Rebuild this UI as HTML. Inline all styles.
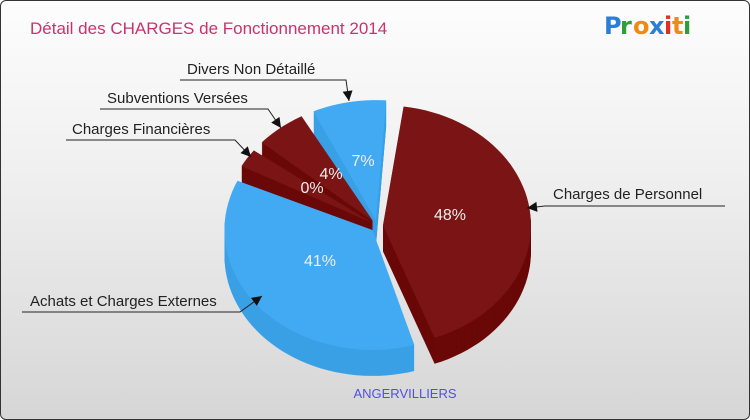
<!DOCTYPE html>
<html><head><meta charset="utf-8"><style>
body{margin:0;width:750px;height:420px;overflow:hidden;font-family:"Liberation Sans",sans-serif}
#wrap{position:absolute;left:0;top:0;width:748px;height:418px;border:1px solid #333;border-radius:6px;background:linear-gradient(#fdfdfd,#f0f0f0 40%,#d6d6d6)}
</style></head><body>
<div id="wrap">
<svg id="svg" width="750" height="420" style="position:absolute;left:-1px;top:-1px">
<text x="30" y="34" font-size="17" fill="#c8336e">Détail des CHARGES de Fonctionnement 2014</text>
<g font-family="'DejaVu Sans',sans-serif" font-size="24" font-weight="bold">
<text x="604" y="34" fill="#2a7fd4">P</text><text x="620" y="34" fill="#2e9e3a">r</text><text x="633" y="34" fill="#f08a10">o</text><text x="649" y="34" fill="#2a7fd4">x</text><text x="664" y="34" fill="#e03020">i</text><text x="672" y="34" fill="#f08a10">t</text><text x="683" y="34" fill="#2e9e3a">i</text>
</g>
<text x="405" y="398" font-size="13" text-anchor="middle" fill="#5050e0">ANGERVILLIERS</text>
<g id="pie"></g>
<g id="labels"></g>
</svg></div>
<script>
const categories=["Charges de Personnel","Achats et Charges Externes","Charges Financières","Subventions Versées","Divers Non Détaillé"];
const values=[48,41,0.3,4,7];
const pctLabels=["48%","41%","0%","4%","7%"];
const cx=377,cy=226,rx=148,ry=120,depth=26,explode=6;
const startDeg=8,gapDeg=4,minDeg=8;
const tops=["#7b1515","#42aaf2","#7b1515","#7b1515","#42aaf2"];
const sides=["#6a0808","#3aa0e6","#6a0808","#6a0808","#3aa0e6"];
const NS="http://www.w3.org/2000/svg";
const pie=document.getElementById('pie');
const total=values.reduce((a,b)=>a+b,0);
function pt(a,ox,oy,dy){return [ox+rx*Math.sin(a),oy-ry*Math.cos(a)+dy];}
function slicePath(a0,a1,ox,oy,dy){
 let d=`M${ox},${oy+dy}`;const n=Math.max(2,Math.ceil((a1-a0)/0.05));
 for(let i=0;i<=n;i++){const p=pt(a0+(a1-a0)*i/n,ox,oy,dy);d+=`L${p[0].toFixed(1)},${p[1].toFixed(1)}`;}
 return d+'Z';}
const R=360-values.length*(gapDeg+minDeg);
let cur=startDeg;const slices=[];
values.forEach((v,i)=>{const sw=minDeg+R*v/total;const a0=cur*Math.PI/180;const a1=(cur+sw)*Math.PI/180;cur+=sw+gapDeg;slices.push({i,a0,a1});});
const order=[4,3,2,1,0];
order.forEach(i=>{
 const s=slices[i];const m=(s.a0+s.a1)/2;
 const ox=cx+explode*Math.sin(m),oy=cy-explode*Math.cos(m);
 const g=document.createElementNS(NS,'g');
 
 
 for(let dy=depth;dy>0;dy-=1){const p=document.createElementNS(NS,'path');p.setAttribute('d',slicePath(s.a0,s.a1,ox,oy,dy));p.setAttribute('fill',sides[i]);g.appendChild(p);}
 const t=document.createElementNS(NS,'path');t.setAttribute('d',slicePath(s.a0,s.a1,ox,oy,0));t.setAttribute('fill',tops[i]);g.appendChild(t);
 pie.appendChild(g);
});
const pctPos=[[450,220],[320,266],[312,193],[331,179],[363,166]];
const labels=document.getElementById('labels');
pctLabels.forEach((l,i)=>{const t=document.createElementNS(NS,'text');t.setAttribute('x',pctPos[i][0]);t.setAttribute('y',pctPos[i][1]);t.setAttribute('text-anchor','middle');t.setAttribute('font-size','16');t.setAttribute('fill','#eee');t.textContent=l;


labels.appendChild(t);});
const leaders=[
 {tx:553,ty:199,line:[[725,206],[545,206],[527,208]]},
 {tx:30,ty:306,line:[[22,312],[240,312],[262,296]]},
 {tx:72,ty:134,line:[[66,140],[235,140],[251,157]]},
 {tx:107,ty:103,line:[[100,109],[268,109],[281,128]]},
 {tx:187,ty:74,line:[[180,80],[346,80],[349,101]]}];
leaders.forEach((L,i)=>{
 const t=document.createElementNS(NS,'text');t.setAttribute('x',L.tx);t.setAttribute('y',L.ty);t.setAttribute('font-size','15');t.setAttribute('fill','#222');t.textContent=categories[i];
 
 
 labels.appendChild(t);
 const p=document.createElementNS(NS,'polyline');p.setAttribute('points',L.line.map(q=>q.join(',')).join(' '));p.setAttribute('fill','none');p.setAttribute('stroke','#222');p.setAttribute('stroke-width','1');
 
 
 labels.appendChild(p);
 const a=L.line[2],b=L.line[1];const ang=Math.atan2(a[1]-b[1],a[0]-b[0]);const s=10,w=5;
 const x1=a[0]-s*Math.cos(ang)+w*Math.sin(ang),y1=a[1]-s*Math.sin(ang)-w*Math.cos(ang);
 const x2=a[0]-s*Math.cos(ang)-w*Math.sin(ang),y2=a[1]-s*Math.sin(ang)+w*Math.cos(ang);
 const h=document.createElementNS(NS,'polygon');h.setAttribute('points',`${a[0]},${a[1]} ${x1},${y1} ${x2},${y2}`);h.setAttribute('fill','#111');
 
 
 labels.appendChild(h);
});
</script>
</body></html>
